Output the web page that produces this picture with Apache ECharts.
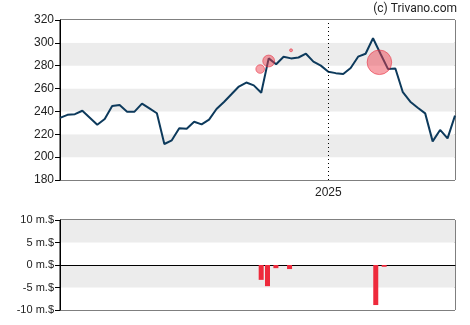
<!DOCTYPE html>
<html>
<head>
<meta charset="utf-8">
<style>
  html, body { margin: 0; padding: 0; background: #fff; }
  #chart { width: 470px; height: 325px; }
</style>
<script src="https://cdn.jsdelivr.net/npm/echarts@6/dist/echarts.min.js"></script>
</head>
<body>
<div id="chart"></div>
<script>
// Weekly closing prices
const weeks = [
  '2024-04-24','2024-05-01','2024-05-08','2024-05-15','2024-05-22','2024-05-29',
  '2024-06-05','2024-06-12','2024-06-19','2024-06-26','2024-07-03','2024-07-10',
  '2024-07-17','2024-07-24','2024-07-31','2024-08-07','2024-08-14','2024-08-21',
  '2024-08-28','2024-09-04','2024-09-11','2024-09-18','2024-09-25','2024-10-02',
  '2024-10-09','2024-10-16','2024-10-23','2024-10-30','2024-11-06','2024-11-13',
  '2024-11-20','2024-11-27','2024-12-04','2024-12-11','2024-12-18','2024-12-25',
  '2025-01-01','2025-01-08','2025-01-15','2025-01-22','2025-01-29','2025-02-05',
  '2025-02-12','2025-02-19','2025-02-26','2025-03-05','2025-03-12','2025-03-19',
  '2025-03-26','2025-04-02','2025-04-09','2025-04-16','2025-04-23','2025-04-30'
];
const closes = [
  234.3, 237.0, 237.6, 240.6, 234.5, 228.4,
  233.4, 244.8, 245.6, 239.8, 239.8, 246.8,
  242.7, 238.4, 211.5, 214.7, 225.2, 224.9,
  231.0, 228.7, 232.8, 242.1, 248.3, 255.0,
  261.8, 265.3, 262.8, 256.4, 286.4, 281.3,
  287.9, 286.4, 287.2, 290.5, 283.6, 280.1,
  274.8, 273.5, 272.8, 278.0, 287.9, 290.5,
  304.0, 290.5, 277.2, 277.6, 256.8, 248.5,
  243.2, 238.3, 213.8, 223.8, 216.4, 236.3
];

// Insider sales: trade date, price, amount (m.$)
const tradeDates  = ['2024-10-29', '2024-11-06', '2024-11-27', '2025-02-18'];
const tradePrices = [277.1, 284.1, 293.5, 283.0];
const tradeSizes  = [3.2, 4.4, 1.1, 9.1];

// Net insider flow (m.$)
const flowDates  = ['2024-10-30', '2024-11-05', '2024-11-13', '2024-11-26', '2025-02-16', '2025-02-24'];
const flowValues = [-3.3, -4.7, -0.7, -0.9, -8.9, -0.4];

const priceTicks = { min: 180, max: 320, step: 20 };
const flowTicks  = { min: -10, max: 10, step: 5 };
const yearMark   = '2025-01-01';
const yearLabel  = '2025';

const FONT = 'Liberation Sans, Arial, sans-serif';
const xMin = weeks[0];
const xMax = weeks[weeks.length - 1];

const chart = echarts.init(document.getElementById('chart'), null, { renderer: 'canvas' });

chart.setOption({
  animation: false,
  backgroundColor: '#fff',
  textStyle: { fontFamily: FONT },
  graphic: [{
    type: 'text',
    right: 13,
    top: 3,
    style: { text: '(c) Trivano.com', font: '12px Roboto, sans-serif', fill: '#222' }
  }],
  grid: [
    { left: 60, right: 15, top: 20, height: 160, show: true, borderColor: '#000', borderWidth: 1, backgroundColor: 'transparent' },
    { left: 60, right: 15, top: 220, height: 90, show: true, borderColor: '#000', borderWidth: 1, backgroundColor: 'transparent' }
  ],
  xAxis: [
    {
      type: 'time', gridIndex: 0, min: xMin, max: xMax,
      axisLine: { show: false },
      axisTick: { show: false },
      splitLine: { show: false },
      axisLabel: { show: false }
    },
    {
      type: 'time', gridIndex: 1, min: xMin, max: xMax,
      axisLine: { show: true, onZero: true, lineStyle: { color: '#000', width: 1 } },
      axisTick: { show: false },
      splitLine: { show: false },
      axisLabel: { show: false }
    }
  ],
  yAxis: [
    {
      type: 'value', gridIndex: 0,
      min: priceTicks.min, max: priceTicks.max, interval: priceTicks.step,
      axisLine: { show: true, lineStyle: { color: '#000' } },
      axisTick: { show: true, length: 5, lineStyle: { color: '#000' } },
      axisLabel: { color: '#222', fontSize: 12, fontFamily: FONT, margin: 6 },
      splitLine: { show: false },
      splitArea: { show: true, areaStyle: { color: ['#ffffff', '#ececec'] } }
    },
    {
      type: 'value', gridIndex: 1,
      min: flowTicks.min, max: flowTicks.max, interval: flowTicks.step,
      axisLine: { show: true, lineStyle: { color: '#000' } },
      axisTick: { show: true, length: 5, lineStyle: { color: '#000' } },
      axisLabel: { color: '#222', fontSize: 11, fontFamily: FONT, margin: 6, formatter: v => v + ' m.$' },
      splitLine: { show: false },
      splitArea: { show: true, areaStyle: { color: ['#ffffff', '#ececec'] } }
    }
  ],
  series: [
    {
      type: 'line', xAxisIndex: 0, yAxisIndex: 0,
      data: weeks.map((d, i) => [d, closes[i]]),
      showSymbol: false,
      lineStyle: { color: '#0d3a5c', width: 2 },
      z: 3,
      markLine: {
        silent: true, symbol: 'none',
        label: {
          show: true, position: 'start', formatter: yearLabel,
          color: '#222', fontSize: 12, fontFamily: FONT, distance: 7
        },
        lineStyle: { color: '#000', type: [1, 3], width: 1 },
        data: [{ xAxis: yearMark }]
      }
    },
    {
      type: 'scatter', xAxisIndex: 0, yAxisIndex: 0,
      data: tradeDates.map((d, i) => [d, tradePrices[i], tradeSizes[i]]),
      symbolSize: v => v[2] * 2.7,
      itemStyle: { color: 'rgba(236, 60, 75, 0.6)', borderColor: 'rgba(232, 45, 62, 0.7)', borderWidth: 1 },
      z: 4
    },
    {
      type: 'bar', xAxisIndex: 1, yAxisIndex: 1,
      data: flowDates.map((d, i) => [d, flowValues[i]]),
      barWidth: 5,
      itemStyle: { color: '#ee2a3c' },
      z: 3
    }
  ]
});
</script>
</body>
</html>
